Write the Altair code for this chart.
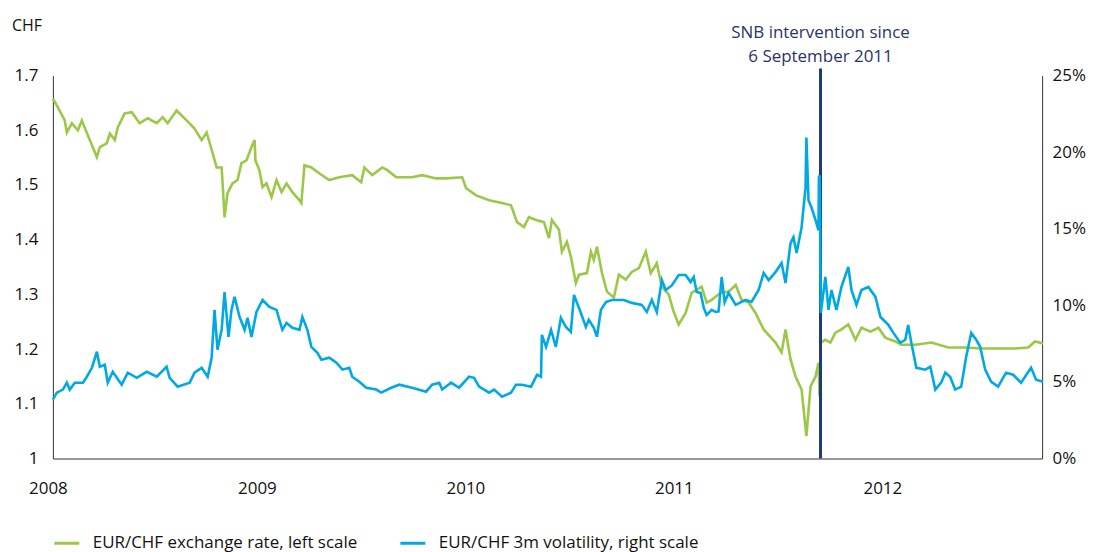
import altair as alt
import pandas as pd

# ---- data (decimal years) ----
rate_year = [
    2008.000, 2008.024, 2008.057, 2008.067, 2008.091, 2008.120, 2008.139, 2008.177, 2008.211, 2008.225,
    2008.258, 2008.273, 2008.297, 2008.311, 2008.344, 2008.378, 2008.416, 2008.455, 2008.498, 2008.526,
    2008.550, 2008.593, 2008.641, 2008.679, 2008.713, 2008.737, 2008.766, 2008.785, 2008.809, 2008.823,
    2008.837, 2008.861, 2008.885, 2008.904, 2008.928, 2008.952, 2008.967, 2008.971, 2008.990, 2009.005,
    2009.024, 2009.048, 2009.072, 2009.096, 2009.120, 2009.148, 2009.182, 2009.191, 2009.206, 2009.239,
    2009.278, 2009.325, 2009.373, 2009.435, 2009.478, 2009.493, 2009.531, 2009.579, 2009.603, 2009.646,
    2009.722, 2009.770, 2009.837, 2009.885, 2009.962, 2009.981, 2010.029, 2010.091, 2010.153, 2010.196,
    2010.225, 2010.258, 2010.282, 2010.316, 2010.354, 2010.378, 2010.392, 2010.426, 2010.440, 2010.464,
    2010.483, 2010.507, 2010.522, 2010.560, 2010.579, 2010.593, 2010.608, 2010.632, 2010.656, 2010.689,
    2010.713, 2010.746, 2010.775, 2010.809, 2010.842, 2010.866, 2010.895, 2010.919, 2010.952, 2010.976,
    2011.000, 2011.033, 2011.062, 2011.110, 2011.134, 2011.158, 2011.201, 2011.239, 2011.273, 2011.301,
    2011.335, 2011.368, 2011.407, 2011.464, 2011.493, 2011.512, 2011.536, 2011.560, 2011.589, 2011.612,
    2011.632, 2011.656, 2011.670, 2011.675, 2011.681, 2011.703, 2011.727, 2011.751, 2011.780, 2011.813,
    2011.847, 2011.876, 2011.919, 2011.957, 2011.990, 2012.038, 2012.067, 2012.134, 2012.211, 2012.292,
    2012.373, 2012.450, 2012.531, 2012.612, 2012.675, 2012.708, 2012.746,
]
rate_value = [
    1.658, 1.642, 1.618, 1.596, 1.613, 1.600, 1.618, 1.582, 1.551, 1.569,
    1.576, 1.594, 1.582, 1.605, 1.631, 1.633, 1.613, 1.622, 1.613, 1.624,
    1.613, 1.636, 1.618, 1.603, 1.582, 1.596, 1.558, 1.532, 1.532, 1.441,
    1.485, 1.503, 1.509, 1.540, 1.545, 1.569, 1.582, 1.545, 1.527, 1.496,
    1.503, 1.478, 1.509, 1.487, 1.503, 1.487, 1.472, 1.467, 1.536, 1.532,
    1.521, 1.509, 1.514, 1.518, 1.505, 1.532, 1.518, 1.532, 1.527, 1.514,
    1.514, 1.518, 1.512, 1.512, 1.514, 1.494, 1.481, 1.472, 1.467, 1.463,
    1.432, 1.423, 1.441, 1.436, 1.432, 1.403, 1.436, 1.418, 1.378, 1.396,
    1.369, 1.321, 1.336, 1.339, 1.378, 1.363, 1.387, 1.339, 1.305, 1.294,
    1.336, 1.327, 1.341, 1.348, 1.378, 1.339, 1.357, 1.314, 1.300, 1.268,
    1.245, 1.266, 1.303, 1.314, 1.285, 1.290, 1.303, 1.305, 1.317, 1.290,
    1.285, 1.266, 1.236, 1.212, 1.194, 1.236, 1.181, 1.150, 1.126, 1.041,
    1.132, 1.150, 1.175, 1.114, 1.212, 1.217, 1.212, 1.230, 1.236, 1.245,
    1.217, 1.239, 1.232, 1.239, 1.221, 1.214, 1.208, 1.208, 1.212, 1.203,
    1.203, 1.201, 1.201, 1.201, 1.203, 1.214, 1.210,
]

vol_year = [
    2008.000, 2008.019, 2008.048, 2008.067, 2008.081, 2008.105, 2008.144, 2008.163, 2008.187, 2008.211,
    2008.225, 2008.249, 2008.263, 2008.287, 2008.330, 2008.359, 2008.402, 2008.450, 2008.498, 2008.545,
    2008.560, 2008.598, 2008.656, 2008.679, 2008.713, 2008.742, 2008.761, 2008.775, 2008.789, 2008.809,
    2008.823, 2008.842, 2008.856, 2008.871, 2008.895, 2008.919, 2008.933, 2008.952, 2008.976, 2009.005,
    2009.038, 2009.072, 2009.100, 2009.120, 2009.148, 2009.182, 2009.196, 2009.220, 2009.239, 2009.268,
    2009.287, 2009.325, 2009.359, 2009.388, 2009.421, 2009.435, 2009.469, 2009.502, 2009.550, 2009.574,
    2009.622, 2009.660, 2009.722, 2009.789, 2009.818, 2009.852, 2009.866, 2009.909, 2009.947, 2009.995,
    2010.019, 2010.043, 2010.091, 2010.115, 2010.153, 2010.196, 2010.220, 2010.249, 2010.292, 2010.321,
    2010.340, 2010.344, 2010.364, 2010.388, 2010.411, 2010.435, 2010.459, 2010.483, 2010.498, 2010.531,
    2010.555, 2010.569, 2010.593, 2010.608, 2010.627, 2010.651, 2010.679, 2010.737, 2010.775, 2010.823,
    2010.847, 2010.871, 2010.895, 2010.919, 2010.938, 2010.967, 2011.000, 2011.033, 2011.057, 2011.072,
    2011.086, 2011.105, 2011.120, 2011.134, 2011.158, 2011.177, 2011.191, 2011.206, 2011.220, 2011.239,
    2011.273, 2011.301, 2011.321, 2011.349, 2011.383, 2011.407, 2011.431, 2011.464, 2011.493, 2011.512,
    2011.536, 2011.550, 2011.565, 2011.589, 2011.608, 2011.612, 2011.622, 2011.636, 2011.656, 2011.670,
    2011.672, 2011.676, 2011.681, 2011.703, 2011.718, 2011.732, 2011.756, 2011.780, 2011.813, 2011.828,
    2011.852, 2011.876, 2011.909, 2011.943, 2011.967, 2012.005, 2012.029, 2012.062, 2012.086, 2012.100,
    2012.115, 2012.139, 2012.182, 2012.206, 2012.230, 2012.258, 2012.278, 2012.301, 2012.325, 2012.354,
    2012.378, 2012.402, 2012.426, 2012.445, 2012.469, 2012.498, 2012.531, 2012.569, 2012.603, 2012.641,
    2012.689, 2012.713, 2012.746,
]
vol_value = [
    3.84, 4.30, 4.50, 4.95, 4.50, 4.95, 4.95, 5.34, 5.92, 6.97,
    5.99, 6.12, 4.95, 5.66, 4.82, 5.60, 5.27, 5.66, 5.34, 5.99,
    5.27, 4.69, 4.95, 5.60, 5.92, 5.34, 6.58, 9.70, 7.10, 8.40,
    10.87, 7.94, 9.70, 10.55, 9.24, 8.40, 9.18, 7.94, 9.57, 10.35,
    9.90, 9.70, 8.40, 8.85, 8.53, 8.40, 9.24, 8.40, 7.29, 6.90,
    6.45, 6.58, 6.25, 5.80, 5.92, 5.34, 5.01, 4.62, 4.50, 4.30,
    4.62, 4.82, 4.62, 4.36, 4.82, 4.95, 4.50, 4.95, 4.62, 5.34,
    5.27, 4.69, 4.30, 4.50, 4.04, 4.30, 4.82, 4.82, 4.69, 5.47,
    5.34, 8.07, 7.29, 8.40, 7.29, 9.18, 8.59, 8.27, 10.68, 9.50,
    8.59, 9.05, 8.53, 7.94, 9.70, 10.22, 10.35, 10.35, 10.16, 10.03,
    9.57, 10.35, 9.57, 11.65, 11.00, 11.30, 11.98, 11.98, 11.52, 11.85,
    10.87, 10.81, 9.83, 9.37, 9.70, 9.57, 9.60, 11.85, 10.20, 10.81,
    10.03, 10.22, 10.35, 10.22, 11.00, 12.11, 11.65, 12.17, 12.76, 11.46,
    14.06, 14.45, 13.41, 15.10, 17.70, 20.96, 16.86, 16.40, 15.56, 14.90,
    18.36, 18.49, 9.50, 11.85, 9.70, 11.00, 9.70, 11.20, 12.50, 11.00,
    10.03, 11.00, 11.20, 10.55, 9.24, 8.72, 8.20, 7.55, 7.75, 8.72,
    7.55, 5.92, 5.80, 5.99, 4.50, 4.95, 5.60, 5.34, 4.50, 4.69,
    6.64, 8.20, 7.75, 7.29, 5.80, 5.01, 4.69, 5.60, 5.47, 4.95,
    5.92, 5.14, 5.01,
]

series_names = ["EUR/CHF exchange rate, left scale", "EUR/CHF 3m volatility, right scale"]
series_colors = ["#9bc846", "#00a9e4"]
left_ticks = [1.0, 1.1, 1.2, 1.3, 1.4, 1.5, 1.6, 1.7]
right_ticks = [0, 5, 10, 15, 20, 25]
year_ticks = [2008, 2009, 2010, 2011, 2012]
intervention_date = "2011-09-06"
annotation_lines = ["SNB intervention since", "6 September 2011"]


def to_dates(years):
    base = pd.Timestamp("2008-01-01")
    return [base + pd.to_timedelta((y - 2008) * 365.25, unit="D") for y in years]


rate_df = pd.DataFrame({"date": to_dates(rate_year), "value": rate_value, "series": series_names[0]})
vol_df = pd.DataFrame({"date": to_dates(vol_year), "value": vol_value, "series": series_names[1]})

FONT = "Open Sans"
AXIS_COLOR = "#333333"
NAVY = "#1e3a7b"
TEXT_NAVY = "#2b3367"
LABEL_COLOR = "#111111"

x_scale = alt.Scale(domain=[alt.DateTime(year=2008, month=1, date=1),
                            alt.DateTime(year=2012, month=9, date=28)])
x_axis = alt.Axis(
    title=None, values=[alt.DateTime(year=y, month=1, date=1) for y in year_ticks],
    format="%Y", labelFontSize=17, labelColor=LABEL_COLOR, labelPadding=22,
    ticks=False, grid=False, domainColor=AXIS_COLOR, labelOffset=-5,
    labelFlush=False, labelOverlap=False,
)

color_scale = alt.Scale(domain=series_names, range=series_colors)
legend = alt.Legend(
    title=None, orient="none", direction="horizontal", legendX=0, legendY=455,
    symbolType="stroke", symbolSize=625, symbolStrokeWidth=3, labelFontSize=17,
    labelColor=LABEL_COLOR, labelOffset=12, columnPadding=36, padding=0,
    labelLimit=500,
)

rate_line = alt.Chart(rate_df).mark_line(strokeWidth=2.6, interpolate="linear").encode(
    x=alt.X("date:T", scale=x_scale, axis=x_axis),
    y=alt.Y("value:Q", scale=alt.Scale(domain=[1.0, 1.7], nice=False, zero=False),
            axis=alt.Axis(title=None, values=left_ticks, format=".1~f", labelFontSize=17,
                          labelColor=LABEL_COLOR, ticks=False, grid=False, domainColor=AXIS_COLOR,
                          labelPadding=15, orient="left", labelFlush=False)),
    color=alt.Color("series:N", scale=color_scale, legend=legend, sort=series_names),
)

vol_line = alt.Chart(vol_df).mark_line(strokeWidth=2.6, interpolate="linear").encode(
    x=alt.X("date:T", scale=x_scale, axis=x_axis),
    y=alt.Y("value:Q", scale=alt.Scale(domain=[0, 25], nice=False),
            axis=alt.Axis(title=None, values=right_ticks, labelExpr="datum.value + '%'",
                          labelFontSize=17, labelColor=LABEL_COLOR, ticks=False, grid=False,
                          domainColor=AXIS_COLOR, labelPadding=10, orient="right",
                          labelFlush=False)),
    color=alt.Color("series:N", scale=color_scale, legend=legend, sort=series_names),
)

vline = alt.Chart(pd.DataFrame({"date": [pd.Timestamp(intervention_date)]})).mark_rule(
    color=NAVY, strokeWidth=3
).encode(x=alt.X("date:T", scale=x_scale), y=alt.value(-7), y2=alt.value(384))

ann_df = pd.DataFrame({"date": [pd.Timestamp(intervention_date)] * 2,
                       "text": annotation_lines})
ann1 = alt.Chart(ann_df.iloc[[0]]).mark_text(
    fontSize=17, color=TEXT_NAVY, align="center", baseline="middle", font=FONT
).encode(x=alt.X("date:T", scale=x_scale), y=alt.value(-43), text="text:N")
ann2 = alt.Chart(ann_df.iloc[[1]]).mark_text(
    fontSize=17, color=TEXT_NAVY, align="center", baseline="middle", font=FONT
).encode(x=alt.X("date:T", scale=x_scale), y=alt.value(-19), text="text:N")

chf = alt.Chart(pd.DataFrame({"t": ["CHF"]})).mark_text(
    fontSize=16, color=LABEL_COLOR, align="left", baseline="middle", font=FONT
).encode(x=alt.value(-41), y=alt.value(-50), text="t:N")

left_layer = alt.layer(rate_line, vline, ann1, ann2, chf)
chart = alt.layer(left_layer, vol_line).resolve_scale(y="independent").properties(
    width=992, height=384,
    autosize=alt.AutoSizeParams(type="none"),
    padding={"left": 45, "top": 67, "right": 45, "bottom": 93},
).configure(font=FONT).configure_view(stroke=None).configure_axis(
    labelFont=FONT, domainWidth=1
).configure_legend(labelFont=FONT)

chart.save("out.html", embed_options={"renderer": "svg", "actions": False})
